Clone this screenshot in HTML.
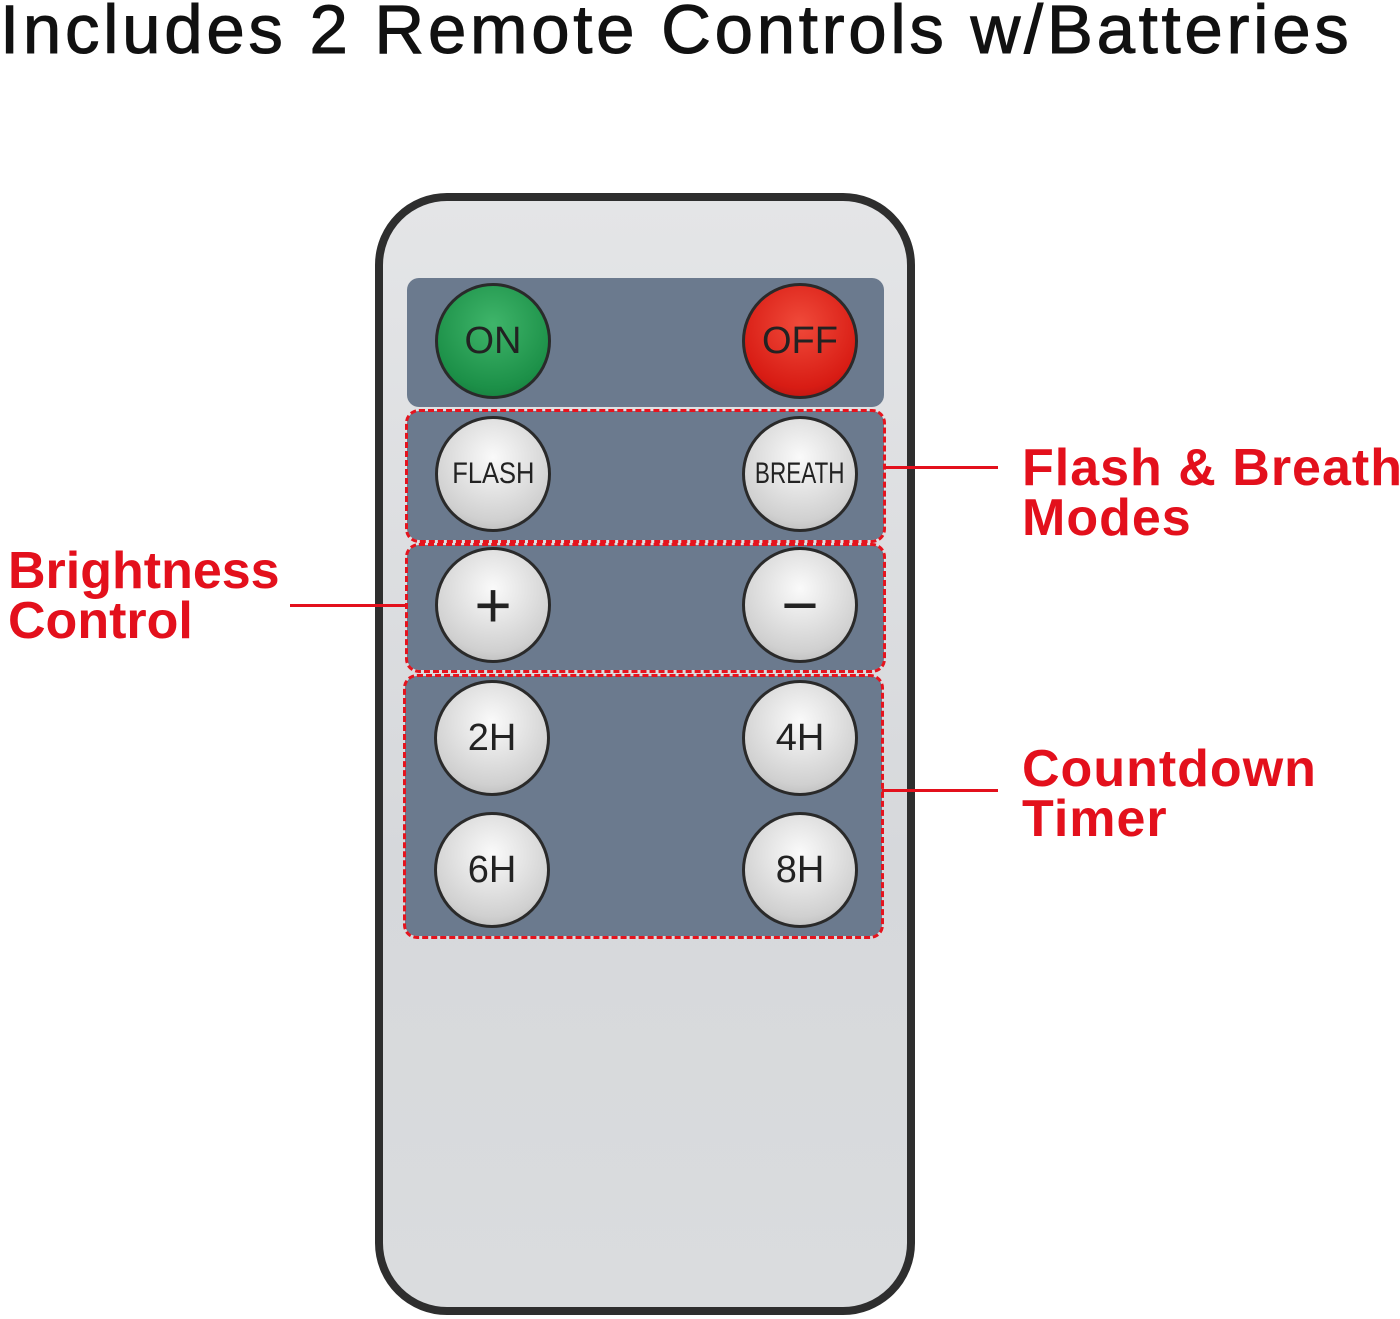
<!DOCTYPE html>
<html><head><meta charset="utf-8"><style>
body{margin:0;width:1400px;height:1319px;background:#fff;position:relative;overflow:hidden;font-family:"Liberation Sans",sans-serif}
.t{position:absolute;left:0;top:-10px;font-size:69px;color:#111;white-space:nowrap;letter-spacing:3.7px;-webkit-text-stroke:1px #111}
.remote{position:absolute;left:375px;top:193px;width:524px;height:1106px;border:8px solid #2e2e2e;border-radius:72px;background:linear-gradient(#e4e5e7,#d6d8db 60%,#dadcde)}
.p{position:absolute;background:#6b7a8e;border-radius:12px}
.d{position:absolute;border:3px dashed #e5141e;border-radius:14px}
.b{position:absolute;width:116px;height:116px;border-radius:50%;border:3px solid #2a2a2a;box-sizing:border-box;display:flex;align-items:center;justify-content:center;font-size:38px;color:#222;background:radial-gradient(circle at 50% 35%,#fafafa,#d0d0d0 70%,#aaa)}
.sm{font-size:30px;transform:scaleX(0.85)}
.lab{position:absolute;color:#e3101c;font-size:52px;line-height:50px;font-weight:bold;white-space:nowrap;letter-spacing:1px}
.ln{position:absolute;height:3px;background:#e3101c}
</style></head><body>
<div class="t">Includes 2 Remote Controls w/Batteries</div>
<div class="remote"></div>
<div class="p" style="left:407px;top:278px;width:477px;height:129px"></div>
<div class="p" style="left:407px;top:411px;width:477px;height:129px"></div>
<div class="p" style="left:407px;top:545px;width:477px;height:125px"></div>
<div class="p" style="left:405px;top:676px;width:477px;height:260px"></div>
<div class="d" style="left:405px;top:409px;width:475px;height:128px"></div>
<div class="d" style="left:405px;top:543px;width:475px;height:124px"></div>
<div class="d" style="left:403px;top:674px;width:475px;height:259px"></div>
<div class="b" style="left:435px;top:283px;background:radial-gradient(circle at 50% 35%,#3fb56a,#1c9048 70%,#147038)">ON</div>
<div class="b" style="left:742px;top:283px;background:radial-gradient(circle at 50% 35%,#f04a3a,#d81c14 70%,#a01010)">OFF</div>
<div class="b" style="left:435px;top:416px"><span class="sm">FLASH</span></div>
<div class="b" style="left:742px;top:416px"><span class="sm" style="transform:scaleX(0.75)">BREATH</span></div>
<div class="b" style="left:435px;top:547px;font-size:64px">+</div>
<div class="b" style="left:742px;top:547px;font-size:64px">−</div>
<div class="b" style="left:434px;top:680px">2H</div>
<div class="b" style="left:742px;top:680px">4H</div>
<div class="b" style="left:434px;top:812px">6H</div>
<div class="b" style="left:742px;top:812px">8H</div>
<div class="ln" style="left:884px;top:466px;width:114px"></div>
<div class="ln" style="left:290px;top:604px;width:116px"></div>
<div class="ln" style="left:882px;top:789px;width:116px"></div>
<div class="lab" style="left:1022px;top:443px">Flash &amp; Breath<br>Modes</div>
<div class="lab" style="left:8px;top:546px;letter-spacing:0">Brightness<br>Control</div>
<div class="lab" style="left:1022px;top:744px">Countdown<br>Timer</div>
</body></html>
